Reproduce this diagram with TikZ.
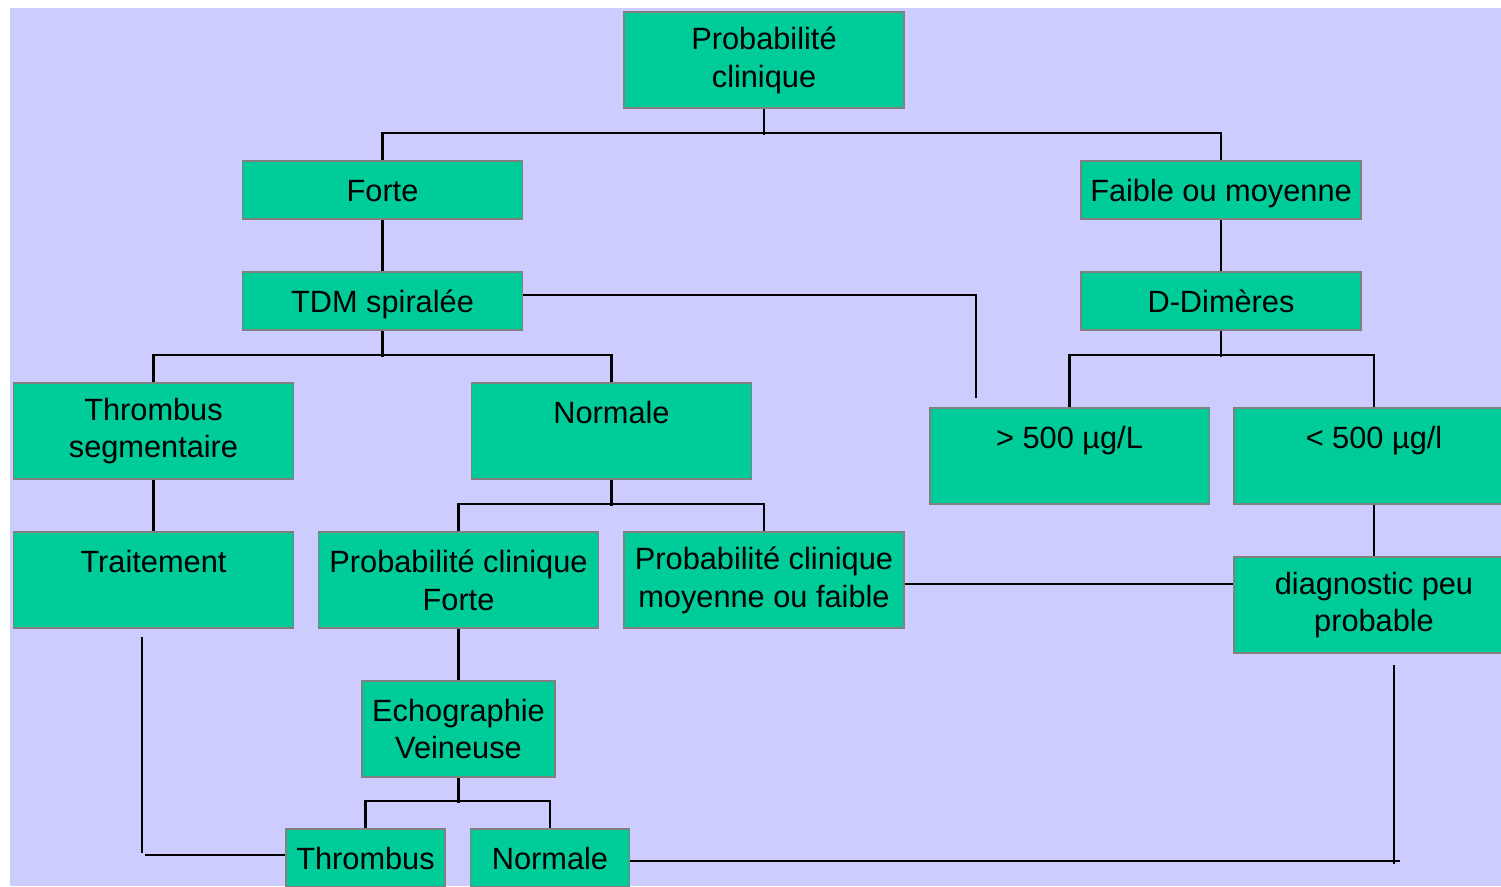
\documentclass[tikz,border=0pt]{standalone}
\usepackage{fontspec}
\setmainfont{Liberation Sans}
\usepackage{tikz}
\definecolor{fond}{HTML}{CCCCFF}
\definecolor{vert}{HTML}{00CC99}
\tikzset{
	boite/.style={draw=gray, line width=1.1pt, fill=vert, align=center, inner sep=0pt,
		font=\fontsize{17.5}{21.5}\selectfont, minimum width=5.6cm, minimum height=1.16cm},
	ligne/.style={boite, text height=0.5cm, text depth=0.06cm},
	haute/.style={boite, minimum height=1.92cm},
	lien/.style={line width=1.2pt}
}

\begin{document}
\begin{tikzpicture}[x=0.02cm, y=-0.02cm]

	\useasboundingbox (0,0) rectangle (1501,886);
	\fill [fond] (10,8) rectangle (1501,886);

	% les boites
	\node [haute] (prob) at (764,60) {Probabilité\\clinique};
	\node [ligne] (forte) at (382.5,190) {Forte};
	\node [ligne] (faible) at (1221,190) {Faible ou moyenne};
	\node [ligne] (tdm) at (382.5,301) {TDM spiralée};
	\node [ligne] (ddim) at (1221,301) {D-Dimères};
	\node [haute] (thrseg) at (153.5,431) {Thrombus\\segmentaire};
	\node [haute] (normale) at (611.5,431) {Normale\\\mbox{}};
	\node [haute] (sup) at (1069.5,456) {> 500 µg/L\\\mbox{}};
	\node [haute] (inf) at (1374,456) {< 500 µg/l\\\mbox{}};
	\node [haute] (trait) at (153.5,580) {Traitement\\\mbox{}};
	\node [haute] (pcforte) at (458.5,580) {Probabilité clinique\\Forte};
	\node [haute] (pcmoy) at (764,580) {Probabilité clinique\\moyenne ou faible};
	\node [haute] (diag) at (1374,605) {diagnostic peu\\probable};
	\node [haute, minimum width=3.86cm] (echo) at (458.5,729) {Echographie\\Veineuse};
	\node [ligne, minimum width=3.18cm] (thromb) at (365.5,858) {Thrombus};
	\node [ligne, minimum width=3.18cm] (normb) at (550,858) {Normale};

	\coordinate (coin) at (976,295);
	\coordinate (finsup) at (976,398);
	\coordinate (traitA) at (142,637);
	\coordinate (traitB) at (142,853);
	\coordinate (traitC) at (145,855);
	\coordinate (diagA) at (1394,665);
	\coordinate (diagB) at (1400,861);
	\coordinate (diagC) at (1394,864);

	% les liens
	\draw [lien] (prob.south) -- ++(0,26);
	\draw [lien] (forte.north) -- ++(0,-27) -| (faible.north);
	\draw [lien] (forte.south) -- (tdm.north);
	\draw [lien] (faible.south) -- (ddim.north);
	\draw [lien] (tdm.south) -- ++(0,26);
	\draw [lien] (thrseg.north) -- ++(0,-27) -| (normale.north);
	\draw [lien] (ddim.south) -- ++(0,26);
	\draw [lien] (sup.north) -- ++(0,-52) -| (inf.north);
	\draw [lien] (tdm.east |- coin) -- (coin) -- (finsup);
	\draw [lien] (thrseg.south) -- (trait.north);
	\draw [lien] (normale.south) -- ++(0,26);
	\draw [lien] (pcforte.north) -- ++(0,-27) -| (pcmoy.north);
	\draw [lien] (inf.south) -- (diag.north);
	\draw [lien] (pcmoy.east |- 0,584) -- (diag.west |- 0,584);
	\draw [lien] (pcforte.south) -- (echo.north);
	\draw [lien] (echo.south) -- ++(0,25);
	\draw [lien] (thromb.north) -- ++(0,-27) -| (normb.north);
	\draw [lien] (traitA) -- (traitB);
	\draw [lien] (traitC) -- (thromb.west |- traitC);
	\draw [lien] (normb.east |- diagB) -- (diagB);
	\draw [lien] (diagA) -- (diagC);

\end{tikzpicture}
\end{document}
